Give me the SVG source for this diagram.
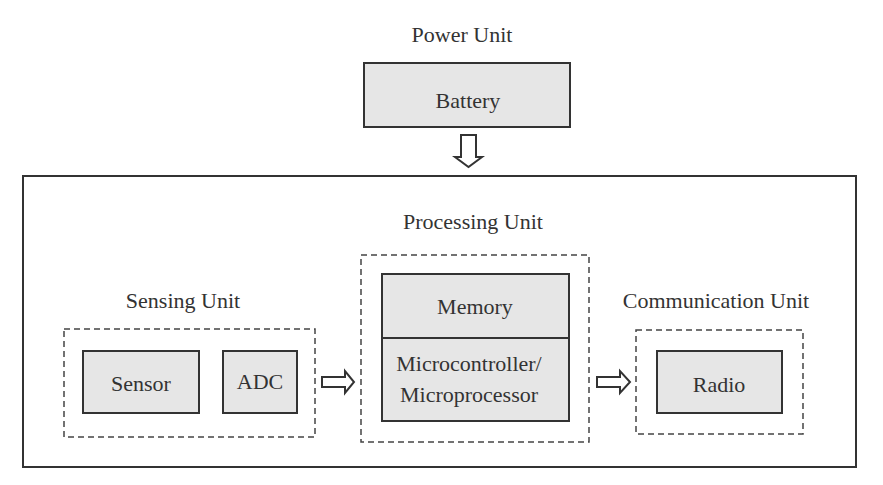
<svg xmlns="http://www.w3.org/2000/svg" width="883" height="485" viewBox="0 0 883 485" font-family="Liberation Serif, DejaVu Serif, serif">
<style>
text{font-size:22px;fill:#333;text-anchor:middle}
.box{fill:#e6e6e6;stroke:#333;stroke-width:2}
.dash{fill:none;stroke:#444;stroke-width:1.5;stroke-dasharray:6,4}
.arrow{fill:#fff;stroke:#333;stroke-width:2;stroke-linejoin:miter}
</style>
<rect width="883" height="485" fill="#fff"/>
<g id="sensor-node-outer">
<rect x="23" y="176" width="833" height="291" fill="none" stroke="#333" stroke-width="2"/>
</g>
<g id="power-unit">
<text x="462" y="42" font-family="Liberation Serif, serif">Power Unit</text>
<rect class="box" x="364" y="63" width="206" height="64"/>
<text x="468" y="108">Battery</text>
</g>
<g id="sensing-unit">
<text x="183" y="308">Sensing Unit</text>
<rect class="dash" x="64" y="329" width="251" height="108"/>
<g id="sensor"><rect class="box" x="83" y="351" width="116" height="62"/><text x="141" y="391">Sensor</text></g>
<g id="adc"><rect class="box" x="223" y="351" width="74" height="62"/><text x="260" y="389">ADC</text></g>
</g>
<g id="processing-unit">
<text x="473" y="229">Processing Unit</text>
<rect class="dash" x="361" y="255" width="228" height="187"/>
<g id="memory"><rect class="box" x="382" y="274" width="187" height="64"/><text x="475" y="314">Memory</text></g>
<g id="mcu"><rect class="box" x="382" y="338" width="187" height="83"/><text x="469" y="371">Microcontroller/</text><text x="469" y="402">Microprocessor</text></g>
</g>
<g id="communication-unit">
<text x="716" y="308">Communication Unit</text>
<rect class="dash" x="636" y="330" width="167" height="104"/>
<g id="radio"><rect class="box" x="657" y="351" width="125" height="62"/><text x="719" y="392">Radio</text></g>
</g>
<g id="connectors">
<polygon class="arrow" points="461,135 476,135 476,157 482,157 468.5,167 455,157 461,157"/>
<polygon class="arrow" points="322,377 345,377 345,371 354,382 345,393 345,387 322,387"/>
<polygon class="arrow" points="597,377 620,377 620,371 630,382 620,393 620,387 597,387"/>
</g>
</svg>
